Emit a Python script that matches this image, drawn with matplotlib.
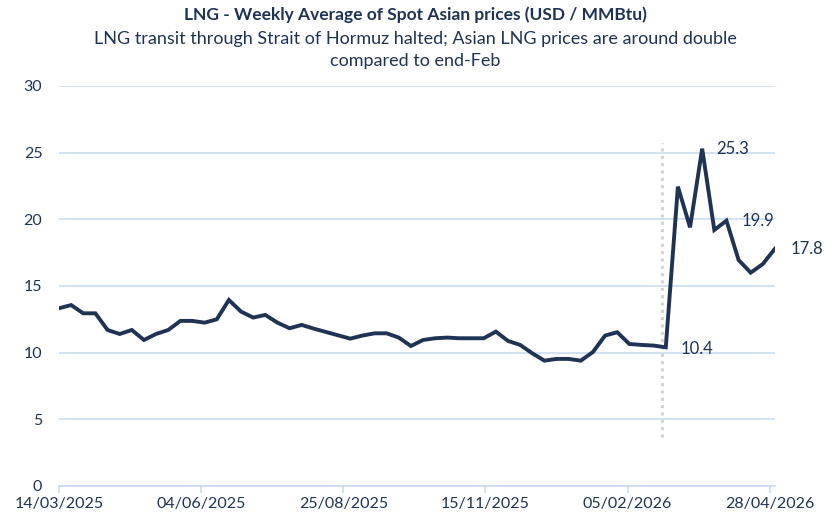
import numpy as np
import pandas as pd
import matplotlib
matplotlib.use("Agg")
import matplotlib.pyplot as plt
import matplotlib.dates as mdates

# weekly average spot Asian LNG price, USD/MMBtu
start = "2025-03-14"
prices = [13.33, 13.57, 12.95, 12.95, 11.70, 11.40, 11.70, 10.95, 11.40, 11.70,
          12.38, 12.38, 12.25, 12.50, 13.95, 13.08, 12.63, 12.83, 12.25, 11.83,
          12.08, 11.80, 11.55, 11.30, 11.05, 11.28, 11.45, 11.45, 11.13, 10.50,
          10.95, 11.08, 11.13, 11.08, 11.08, 11.08, 11.58, 10.88, 10.58, 9.95,
          9.40, 9.53, 9.53, 9.40, 10.05, 11.28, 11.53, 10.65, 10.58, 10.53,
          10.40, 22.45, 19.40, 25.30, 19.20, 19.90, 16.95, 16.00, 16.65, 17.80]
dates = pd.date_range(start, periods=len(prices), freq="7D")

# labelled points (index into prices) and text
labels = {50: "10.4", 53: "25.3", 55: "19.9", 59: "17.8"}
label_offsets = {50: (11, -1), 53: (10, 0), 55: (11, 0), 59: (11, 0)}

# Hormuz closure marker
marker_date = pd.Timestamp("2026-02-25")
marker_span = (3.7, 25.7)

tick_dates = pd.date_range(start, periods=6, freq="82D")
yticks = [0, 5, 10, 15, 20, 25, 30]

navy = "#1f3354"
grid_c = "#c6d9f1"

plt.rcParams["font.family"] = ["Lato", "DejaVu Sans"]

fig = plt.figure(figsize=(8.31, 5.18), dpi=100)
ax = fig.add_axes([0.071, 0.0618, 0.8616, 0.7722])

ax.plot(dates, prices, color=navy, lw=2.8, solid_joinstyle="miter", zorder=3)
ax.plot([marker_date, marker_date], marker_span, color="#d3d3d6", lw=2.2,
        ls=(0, (1, 1.4)), zorder=2)

for i, txt in labels.items():
    dx, dy = label_offsets[i]
    ax.annotate(txt, (dates[i], prices[i]), xytext=(dx, dy), textcoords="offset points",
                ha="left", va="center", fontsize=12, color=navy)

ax.set_xlim(dates[0], dates[-1])
ax.set_ylim(0, 30)
ax.set_yticks(yticks)
ax.set_xticks(tick_dates)
ax.xaxis.set_major_formatter(mdates.DateFormatter("%d/%m/%Y"))
ax.grid(axis="y", color=grid_c, lw=1.1)
ax.set_axisbelow(True)

for s in ("top", "right", "left"):
    ax.spines[s].set_visible(False)
ax.spines["bottom"].set_color(grid_c)
ax.spines["bottom"].set_linewidth(1.1)
ax.tick_params(axis="y", length=0, pad=12, labelsize=11.5, labelcolor=navy)
ax.tick_params(axis="x", length=5, width=1.1, color=grid_c, pad=3,
               labelsize=11.5, labelcolor=navy)

fig.text(0.5, 0.972, "LNG - Weekly Average of Spot Asian prices (USD / MMBtu)",
         ha="center", va="center", fontsize=12.5, fontweight="bold", color=navy)
fig.text(0.5, 0.904, "LNG transit through Strait of Hormuz halted; Asian LNG prices are around double\ncompared to end-Feb",
         ha="center", va="center", fontsize=13, color=navy, linespacing=1.45)

fig.savefig("out.png", dpi=100)
